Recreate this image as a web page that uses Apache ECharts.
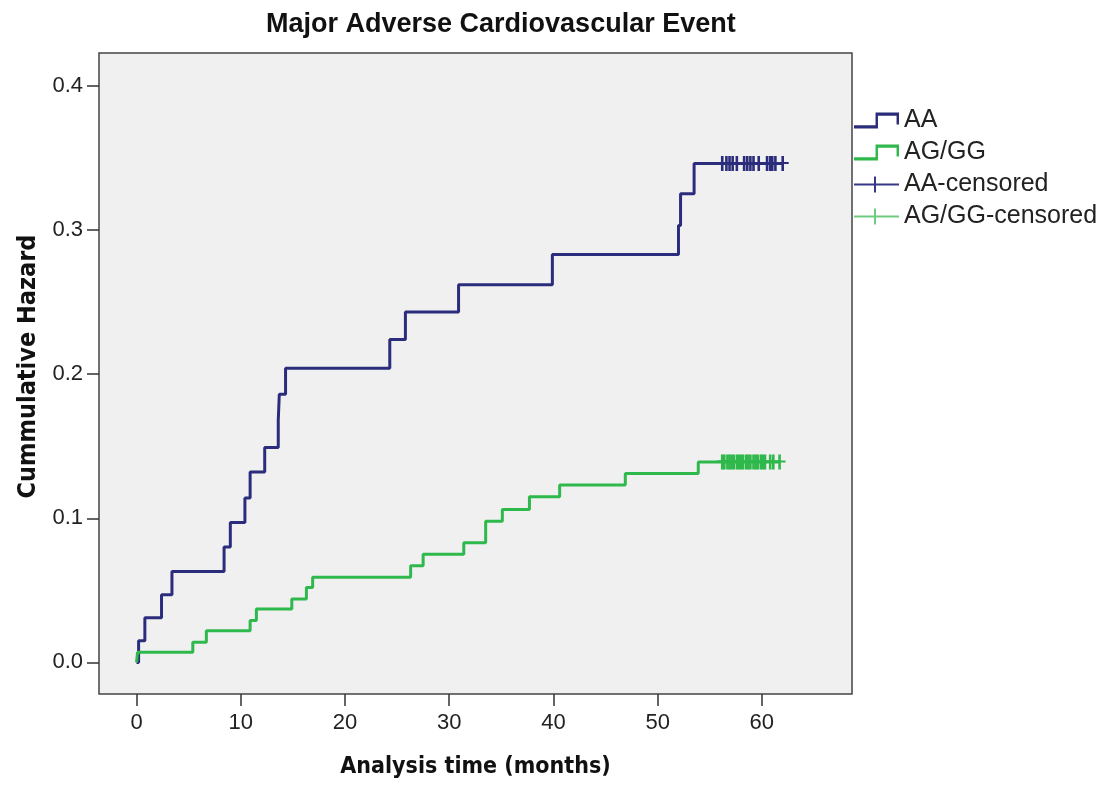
<!DOCTYPE html>
<html>
<head>
<meta charset="utf-8">
<title>Major Adverse Cardiovascular Event</title>
<script src="https://cdn.jsdelivr.net/npm/echarts@6/dist/echarts.min.js"></script>
<style>
  html, body {
    margin: 0;
    padding: 0;
    background: #fff;
  }
  #chart {
    width: 1107px;
    height: 786px;
  }
</style>
</head>
<body>
<div id="chart"></div>
<script>
// cumulative hazard steps (months, hazard)
const timesAA = [0, 0.2, 0.8, 2.4, 3.4, 8.4, 9.0, 10.4, 10.9, 12.3, 13.6, 13.7, 14.3, 24.3, 25.8, 30.9, 39.9, 52.0, 52.2, 53.5, 62.0]
const hazardAA = [0, 0.015, 0.031, 0.047, 0.063, 0.080, 0.097, 0.114, 0.132, 0.149, 0.168, 0.186, 0.204, 0.224, 0.243, 0.262, 0.283, 0.303, 0.325, 0.346, 0.346]
const timesGG = [0, 0.1, 5.4, 6.7, 10.9, 11.5, 14.9, 16.3, 16.9, 26.3, 27.5, 31.4, 33.5, 35.1, 37.7, 40.6, 46.9, 53.9, 61.7]
const hazardGG = [0, 0.007, 0.014, 0.022, 0.029, 0.037, 0.044, 0.052, 0.059, 0.067, 0.075, 0.083, 0.098, 0.106, 0.115, 0.123, 0.131, 0.139, 0.139]

// censored times
const censorAA = [56.2, 56.6, 56.9, 57.2, 57.6, 58.3, 58.6, 58.9, 59.2, 59.7, 60.5, 60.8, 61.0, 61.3, 62.0]
const censorGG = [56.2, 56.4, 56.7, 56.9, 57.1, 57.3, 57.6, 57.8, 58.0, 58.2, 58.5, 58.7, 58.9, 59.2, 59.4, 59.6, 59.9, 60.1, 60.3, 60.8, 61.1, 61.7]

const xTicks = [0, 10, 20, 30, 40, 50, 60]
const yTicks = [0, 0.1, 0.2, 0.3, 0.4]

const colorAA = '#2b2d7c'
const colorGG = '#2fb84b'

// icons
const stepIcon = 'path://M0,9.5 H22 V0 H46 V9 H43.5 V2.5 H24.5 V12 H0 Z'
const legendPlus = 'path://M0,8 H20 V0 H22 V8 H45 V10 H22 V18 H20 V10 H0 Z'
const markPlus = 'path://M4.7,0 H7.3 V6 H12 V8 H7.3 V15 H4.7 V8 H0 V6 H4.7 Z'

const labelFont = "'Liberation Sans', Arial, sans-serif"
const titleFont = "'DejaVu Sans Condensed', 'DejaVu Sans', sans-serif"

function lastValue(arr) {
  return arr[arr.length - 1]
}

const chart = echarts.init(document.getElementById('chart'))

const option = {
  backgroundColor: '#ffffff',
  animation: false,
  title: {
    text: 'Major Adverse Cardiovascular Event',
    left: 266,
    top: 11,
    padding: 0,
    textStyle: {
      fontFamily: labelFont,
      fontSize: 27,
      fontWeight: 'bold',
      color: '#111'
    }
  },
  legend: {
    orient: 'vertical',
    left: 854,
    top: 108,
    padding: 0,
    itemWidth: 45,
    itemHeight: 16,
    itemGap: 7,
    symbolKeepAspect: false,
    itemStyle: {
      borderWidth: 0
    },
    textStyle: {
      fontFamily: labelFont,
      fontSize: 25,
      color: '#222'
    },
    data: [
      { name: 'AA', icon: stepIcon, itemStyle: { color: colorAA } },
      { name: 'AG/GG', icon: stepIcon, itemStyle: { color: colorGG } },
      { name: 'AA-censored', icon: legendPlus, itemStyle: { color: '#383888', opacity: 1 } },
      { name: 'AG/GG-censored', icon: legendPlus, itemStyle: { color: '#6fcb7f', opacity: 1 } }
    ]
  },
  grid: {
    left: 99,
    top: 53,
    width: 753,
    height: 641,
    show: true,
    backgroundColor: '#f0f0f0',
    borderColor: '#444',
    borderWidth: 1.5
  },
  xAxis: {
    type: 'value',
    min: -3.6,
    max: 68.65,
    name: 'Analysis time (months)',
    nameLocation: 'middle',
    nameGap: 62,
    nameTextStyle: {
      fontFamily: titleFont,
      fontSize: 23,
      fontWeight: 'bold',
      color: '#111',
      verticalAlign: 'top'
    },
    axisLine: { show: false, onZero: false },
    splitLine: { show: false },
    axisTick: {
      show: true,
      customValues: xTicks,
      length: 12,
      lineStyle: { color: '#333', width: 1.5 }
    },
    axisLabel: {
      customValues: xTicks,
      margin: 18,
      fontFamily: labelFont,
      fontSize: 22,
      color: '#222'
    }
  },
  yAxis: {
    type: 'value',
    min: -0.0219,
    max: 0.4227,
    name: 'Cummulative Hazard',
    nameLocation: 'middle',
    nameGap: 58,
    nameTextStyle: {
      fontFamily: titleFont,
      fontSize: 25,
      fontWeight: 'bold',
      color: '#111',
      padding: [0, 0, 0, 14]
    },
    axisLine: { show: false, onZero: false },
    splitLine: { show: false },
    axisTick: {
      show: true,
      customValues: yTicks,
      length: 12,
      lineStyle: { color: '#333', width: 1.5 }
    },
    axisLabel: {
      customValues: yTicks,
      margin: 16,
      fontFamily: labelFont,
      fontSize: 22,
      color: '#222',
      formatter: function(v) {
        return v.toFixed(1)
      }
    }
  },
  series: [
    {
      name: 'AA',
      type: 'line',
      step: 'end',
      showSymbol: false,
      color: colorAA,
      lineStyle: { width: 3, color: colorAA },
      data: timesAA.map((t, i) => [t, hazardAA[i]]),
      z: 2
    },
    {
      name: 'AG/GG',
      type: 'line',
      step: 'end',
      showSymbol: false,
      color: colorGG,
      lineStyle: { width: 3, color: colorGG },
      data: timesGG.map((t, i) => [t, hazardGG[i]]),
      z: 2
    },
    {
      name: 'AA-censored',
      type: 'scatter',
      symbol: markPlus,
      symbolSize: [12, 15],
      itemStyle: { color: colorAA, opacity: 1 },
      data: censorAA.map(t => [t, lastValue(hazardAA)]),
      z: 3
    },
    {
      name: 'AG/GG-censored',
      type: 'scatter',
      symbol: markPlus,
      symbolSize: [12, 15],
      itemStyle: { color: colorGG, opacity: 1 },
      data: censorGG.map(t => [t, lastValue(hazardGG)]),
      z: 3
    }
  ]
}

chart.setOption(option)
</script>
</body>
</html>
